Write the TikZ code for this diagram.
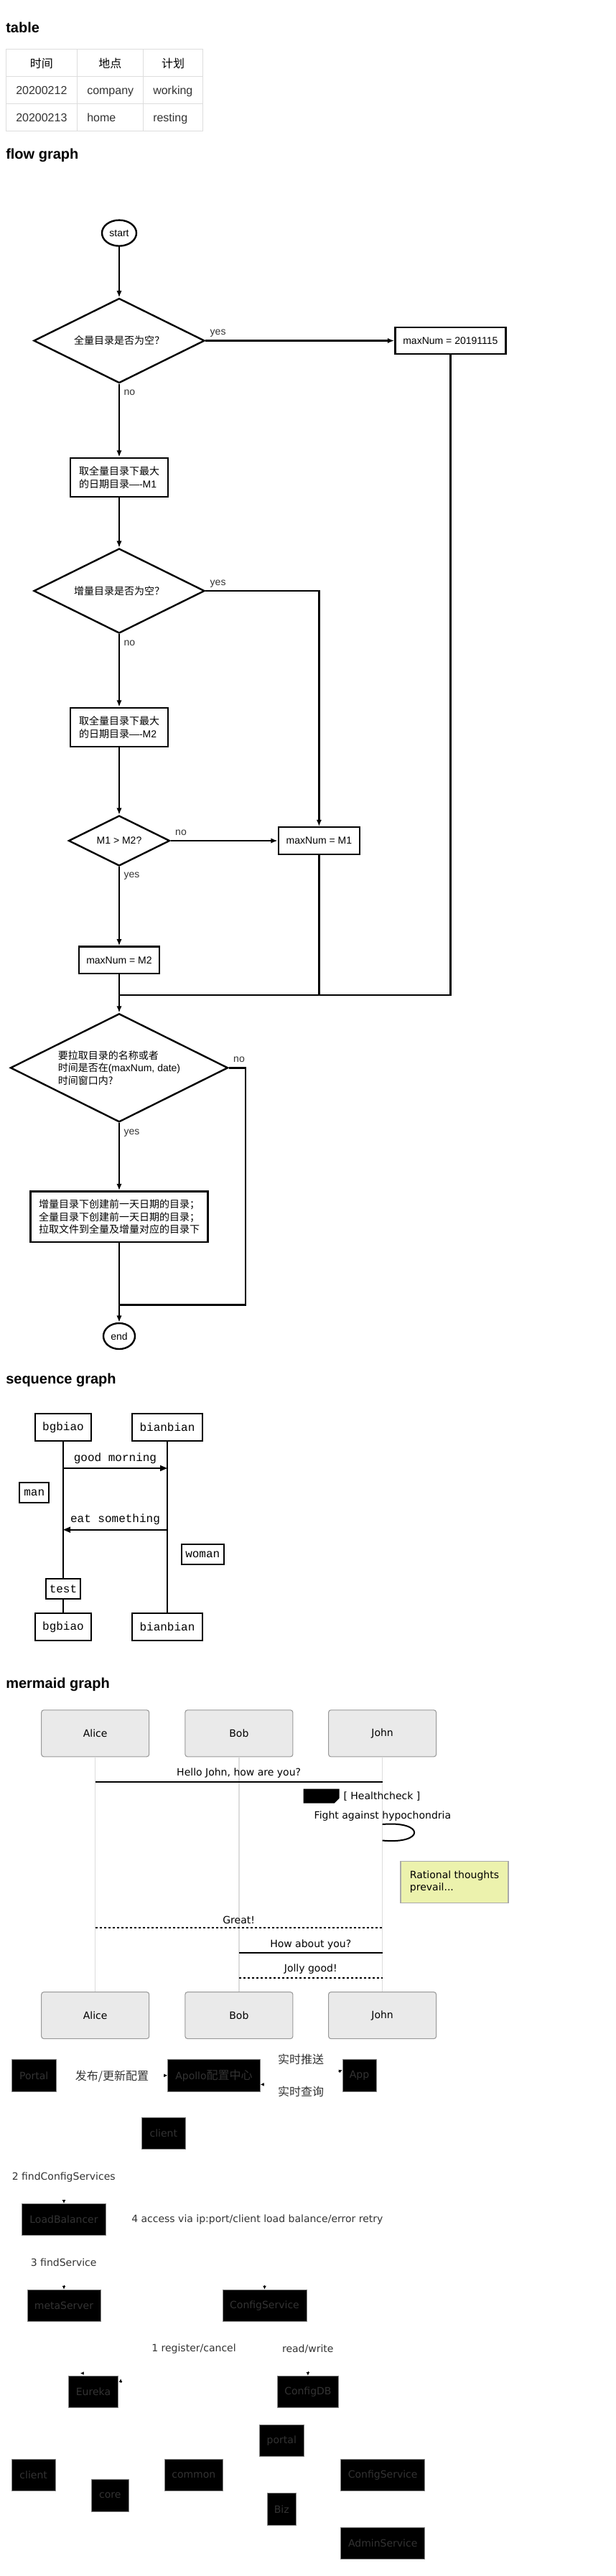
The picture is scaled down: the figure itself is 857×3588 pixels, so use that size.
\documentclass[tikz,border=0pt]{standalone}
\usepackage{fontspec}
\setmainfont{Liberation Sans}
\newfontfamily\cjk{Noto Sans CJK SC}
\newfontfamily\mono{Liberation Mono}
\newfontfamily\mmd{DejaVu Sans}
\usetikzlibrary{arrows.meta,shapes.geometric}
\definecolor{txt}{HTML}{333333}
\definecolor{tblgray}{HTML}{DDDDDD}
\definecolor{actorfill}{HTML}{EAEAEA}
\definecolor{actorgray}{HTML}{999999}
\definecolor{lifegray}{HTML}{DDDDDD}
\definecolor{notefill}{HTML}{ECF2AD}
\definecolor{notegray}{HTML}{AAAAAA}
\definecolor{boxgray}{HTML}{888888}

\begin{document}
\begin{tikzpicture}[x=0.75pt,y=-0.75pt,>={Latex[length=7pt,width=5.5pt]},
  heading/.style={anchor=base west,inner sep=0pt,font=\fontsize{15}{18}\selectfont\bfseries},
  tbl/.style={draw=tblgray,line width=0.9pt},
  cell/.style={anchor=base west,inner sep=0pt,text=txt,font=\fontsize{12}{14}\selectfont},
  flow/.style={draw,line width=1.8pt,inner sep=0pt,font=\fontsize{10.5}{13}\selectfont},
  term/.style={flow,ellipse,minimum height=27pt},
  decide/.style={flow,diamond,aspect=2},
  proc/.style={flow,rectangle,minimum height=28.1pt},
  conn/.style={line width=1.8pt},
  lbl/.style={inner sep=0pt,text=txt,font=\fontsize{10.5}{13}\selectfont},
  seqbox/.style={draw,line width=1.4pt,inner sep=0pt,minimum height=28.7pt,font=\mono\fontsize{12}{14}\selectfont},
  seqnote/.style={seqbox,fill=white,minimum height=21.2pt},
  life/.style={line width=1.2pt},
  seqmsg/.style={line width=1.2pt,-{Triangle[length=7.5pt,width=6pt]}},
  seqlbl/.style={inner sep=0pt,above=4.4pt,font=\mono\fontsize{12}{14}\selectfont},
  mmdactor/.style={draw=actorgray,fill=actorfill,line width=0.8pt,rounded corners=2.5pt,minimum width=112.5pt,minimum height=48.75pt,inner sep=0pt,font=\mmd\fontsize{10.5}{13}\selectfont},
  mmdlife/.style={draw=lifegray,line width=0.9pt},
  mmdmsg/.style={line width=1.5pt},
  mmddot/.style={line width=1.5pt,dash pattern=on 2.25pt off 2.25pt},
  mmdlbl/.style={inner sep=0pt,above=3pt,font=\mmd\fontsize{10.5}{13}\selectfont},
  mmdtext/.style={inner sep=0pt,font=\mmd\fontsize{10.5}{13}\selectfont},
  darkbox/.style={draw=boxgray,fill=black,line width=0.6pt,text=txt,inner sep=0pt,minimum height=33.4pt,font=\mmd\fontsize{10.5}{13}\selectfont},
  darklbl/.style={inner sep=0pt,text=txt,font=\mmd\fontsize{10.5}{13}\selectfont},
  tinytip/.style={line width=0.4pt,-{Latex[length=3.5pt,width=3.5pt]}}]
\useasboundingbox (0,0) rectangle (857,3588);
\fill[white] (0,0) rectangle (857,3588);

\node[heading] (tt) at (8,45.7) {table};
\draw[tbl] (8.3,68.7) rectangle (282.7,182.3);
\foreach \y in {106.7,144.7} \draw[tbl] (8.3,\y) -- (282.7,\y);
\foreach \x in {107.3,199.3} \draw[tbl] (\x,68.7) -- (\x,182.3);
\node[cell,anchor=base,text=black] (h1) at (57.8,94.4) {\cjk 时间};
\node[cell,anchor=base,text=black] (h2) at (153.3,94.4) {\cjk 地点};
\node[cell,anchor=base,text=black] (h3) at (241,94.4) {\cjk 计划};
\node[cell] (r11) at (22,131.4) {20200212};
\node[cell] (r12) at (121,131.4) {company};
\node[cell] (r13) at (213,131.4) {working};
\node[cell] (r21) at (22,169) {20200213};
\node[cell] (r22) at (121,169) {home};
\node[cell] (r23) at (213,169) {resting};

\node[heading] (tf) at (8,221.5) {flow graph};
\node[term,minimum width=36pt] (st) at (166,324.6) {start};
\node[decide,minimum width=178.5pt,minimum height=88.5pt] (d1) at (166,474.5) {\cjk 全量目录是否为空？};
\node[proc,minimum width=115.5pt] (n0) at (627.4,474.5) {maxNum = 20191115};
\node[proc,minimum width=102pt,minimum height=40.7pt,align=left] (m1) at (166,665) {{\cjk 取全量目录下最大}\\{\cjk 的日期目录}----M1};
\node[decide,minimum width=178.5pt,minimum height=88.5pt] (d2) at (166,823) {\cjk 增量目录是否为空？};
\node[proc,minimum width=102pt,minimum height=40.7pt,align=left] (m2) at (166,1013) {{\cjk 取全量目录下最大}\\{\cjk 的日期目录}----M2};
\node[decide,minimum width=105.75pt,minimum height=52.5pt] (d3) at (166,1171) {M1 > M2?};
\node[proc,minimum width=84.75pt] (s1) at (444.4,1171) {maxNum = M1};
\node[proc,minimum width=84.4pt] (s2) at (166,1337.3) {maxNum = M2};
\coordinate (j1) at (166,1386);
\node[decide,minimum width=227.25pt,minimum height=113.25pt,align=left] (d4) at (166,1487.3) {{\cjk 要拉取目录的名称或者}\\{\cjk 时间是否在}(maxNum, date)\\{\cjk 时间窗口内?}};
\node[proc,minimum width=185.25pt,minimum height=53pt,align=left] (mk) at (166,1694.7) {\cjk 增量目录下创建前一天日期的目录；\\\cjk 全量目录下创建前一天日期的目录；\\\cjk 拉取文件到全量及增量对应的目录下};
\coordinate (nt) at (341.7,1817.3);
\coordinate (j2) at (166,1817.3);
\node[term,minimum width=33pt] (en) at (166,1861) {end};

\draw[conn,->] (st) -- (d1);
\draw[conn,->] (d1) -- node[lbl,pos=0,anchor=south west,xshift=4pt,yshift=2.8pt] {yes} (n0);
\draw[conn,->] (d1) -- node[lbl,pos=0,anchor=north west,xshift=4pt,yshift=-5.4pt] {no} (m1);
\draw[conn,->] (m1) -- (d2);
\draw[conn,->] (d2) -| node[lbl,pos=0,anchor=south west,xshift=4pt,yshift=2.8pt] {yes} (s1);
\draw[conn,->] (d2) -- node[lbl,pos=0,anchor=north west,xshift=4pt,yshift=-5.4pt] {no} (m2);
\draw[conn,->] (m2) -- (d3);
\draw[conn,->] (d3) -- node[lbl,pos=0,anchor=south west,xshift=4pt,yshift=4.5pt] {no} (s1);
\draw[conn,->] (d3) -- node[lbl,pos=0,anchor=north west,xshift=4pt,yshift=-5.2pt] {yes} (s2);
\draw[conn] (n0) |- (j1);
\draw[conn] (s1) -- (s1 |- j1);
\draw[conn,->] (s2) -- (d4);
\draw[conn,->] (d4) -- node[lbl,pos=0,anchor=north west,xshift=4pt,yshift=-5.5pt] {yes} (mk);
\draw[conn] (d4) -| node[lbl,pos=0,anchor=south west,xshift=4pt,yshift=4.7pt] {no} (nt) -- (j2);
\draw[conn,->] (mk) -- (en);

\node[heading] (ts) at (8,1927.3) {sequence graph};
\node[seqbox,minimum width=58.5pt] (bg) at (88,1988) {bgbiao};
\node[seqbox,minimum width=73.3pt] (bb) at (233,1988) {bianbian};
\node[seqbox,minimum width=58.5pt] (bg2) at (88,2266) {bgbiao};
\node[seqbox,minimum width=73.3pt] (bb2) at (233,2266) {bianbian};
\node[seqnote,minimum width=30.75pt] (man) at (47.8,2079) {man};
\node[seqnote,minimum width=44.5pt] (wom) at (282.3,2164.8) {woman};
\node[seqnote,minimum width=36.5pt] (tst) at (88,2213) {test};
\coordinate (gm) at (0,2045);
\coordinate (es) at (0,2130.7);
\draw[life] (bg) -- (tst);
\draw[life] (tst) -- (bg2);
\draw[life] (bb) -- (bb2);
\draw[seqmsg] (bg |- gm) -- node[seqlbl] {good morning} (bb |- gm);
\draw[seqmsg] (bb |- es) -- node[seqlbl] {eat something} (bg |- es);

\node[heading] (tm) at (8,2351.4) {mermaid graph};
\node[mmdactor] (al) at (132.7,2414.3) {Alice};
\node[mmdactor] (bo) at (332.9,2414.3) {Bob};
\node[mmdactor] (jo) at (532.6,2414.3) {John};
\node[mmdactor] (al2) at (132.7,2807.1) {Alice};
\node[mmdactor] (bo2) at (332.9,2807.1) {Bob};
\node[mmdactor] (jo2) at (532.6,2807.1) {John};
\draw[mmdlife] (al) -- (al2);
\draw[mmdlife] (bo) -- (bo2);
\draw[mmdlife] (jo) -- (jo2);
\coordinate (hi) at (0,2481.8);
\coordinate (la) at (0,2541);
\coordinate (lb) at (0,2563.5);
\coordinate (gr) at (0,2685);
\coordinate (ha) at (0,2720);
\coordinate (jg) at (0,2754.6);
\draw[mmdmsg] (al |- hi) -- node[mmdlbl] {Hello John, how are you?} (jo |- hi);
\fill (422.7,2491.7) -- (472.7,2491.7) -- (472.7,2504.5) -- (465.7,2511.7) -- (422.7,2511.7) -- cycle;
\node[mmdtext,anchor=west] (hc) at (478.3,2501.7) {[ Healthcheck ]};
\node[mmdtext] (fa) at (532.9,2529.6) {Fight against hypochondria};
\draw[mmdmsg] (jo |- la) .. controls (592,2536) and (592,2569) .. (jo |- lb);
\node[mmdtext,draw=notegray,fill=notefill,line width=0.8pt,minimum width=112.5pt,minimum height=43.5pt,align=left] (rt) at (633,2621) {Rational thoughts\\prevail...};
\draw[mmddot] (al |- gr) -- node[mmdlbl] {Great!} (jo |- gr);
\draw[mmdmsg] (bo |- ha) -- node[mmdlbl] {How about you?} (jo |- ha);
\draw[mmddot] (bo |- jg) -- node[mmdlbl] {Jolly good!} (jo |- jg);

\node[darkbox,minimum width=46.8pt] (po) at (47.2,2890.8) {Portal};
\node[darklbl] (pub) at (156,2892.5) {\cjk\fontsize{12}{14}\selectfont 发布/更新配置};
\node[darkbox,minimum width=96.75pt] (ap) at (298,2890.8) {Apollo{\cjk\fontsize{12}{14}\selectfont 配置中心}};
\node[darklbl] (push) at (419,2868.3) {\cjk\fontsize{12}{14}\selectfont 实时推送};
\node[darklbl] (qry) at (419,2913.3) {\cjk\fontsize{12}{14}\selectfont 实时查询};
\node[darkbox,minimum width=35.25pt] (app) at (500.5,2890.8) {App};
\node[darkbox,minimum width=45.6pt] (cl) at (227.8,2971.3) {client};
\node[darklbl,anchor=west] (fcs) at (16.5,3032.3) {2 findConfigServices};
\node[darkbox,minimum width=87.4pt] (lbx) at (89,3091.5) {LoadBalancer};
\node[darklbl,anchor=west] (acc) at (183,3092) {4 access via ip:port/client load balance/error retry};
\node[darklbl] (fs) at (88.7,3151.7) {3 findService};
\node[darkbox,minimum width=76.65pt] (ms) at (89,3211.2) {metaServer};
\node[darkbox,minimum width=87.75pt] (cs) at (368.5,3211.2) {ConfigService};
\node[darklbl] (reg) at (270,3271.7) {1 register/cancel};
\node[darklbl] (rw) at (428.8,3271.7) {read/write};
\node[darkbox,minimum width=51.5pt] (eu) at (130,3331.3) {Eureka};
\node[darkbox,minimum width=63.1pt] (cdb) at (428.9,3331.3) {ConfigDB};
\node[darkbox,minimum width=46.95pt] (pt) at (392.3,3399.5) {portal};
\node[darkbox,minimum width=45.3pt] (cl2) at (46.7,3447.2) {client};
\node[darkbox,minimum width=38.7pt] (co) at (153.3,3475.8) {core};
\node[darkbox,minimum width=60.15pt] (cm) at (269.8,3447.2) {common};
\node[darkbox,minimum width=87.8pt] (cs2) at (533.2,3447.2) {ConfigService};
\node[darkbox,minimum width=30.45pt] (bz) at (392.3,3494.7) {Biz};
\node[darkbox,minimum width=87.8pt] (ad) at (533.2,3542.2) {AdminService};

\draw[tinytip] ([xshift=-4pt]ap.west) -- (ap.west);
\draw[tinytip] ([xshift=4pt,yshift=-9.4pt]ap.east) -- ([yshift=-9.4pt]ap.east);
\draw[tinytip] ([xshift=-4pt,yshift=4pt]app.west) -- ([yshift=5.6pt]app.west);
\draw[tinytip] ([yshift=4pt]lbx.north) -- (lbx.north);
\draw[tinytip] ([yshift=4pt]ms.north) -- (ms.north);
\draw[tinytip] ([yshift=4pt]cs.north) -- (cs.north);
\draw[tinytip] ([xshift=15.8pt,yshift=2.3pt]eu.north west) -- ([xshift=12.6pt,yshift=2.3pt]eu.north west);
\draw[tinytip] ([xshift=2.5pt,yshift=-7pt]eu.north east) -- ([xshift=2.5pt,yshift=-3.5pt]eu.north east);
\draw[tinytip] ([yshift=4pt]cdb.north) -- (cdb.north);
\end{tikzpicture}
\end{document}
